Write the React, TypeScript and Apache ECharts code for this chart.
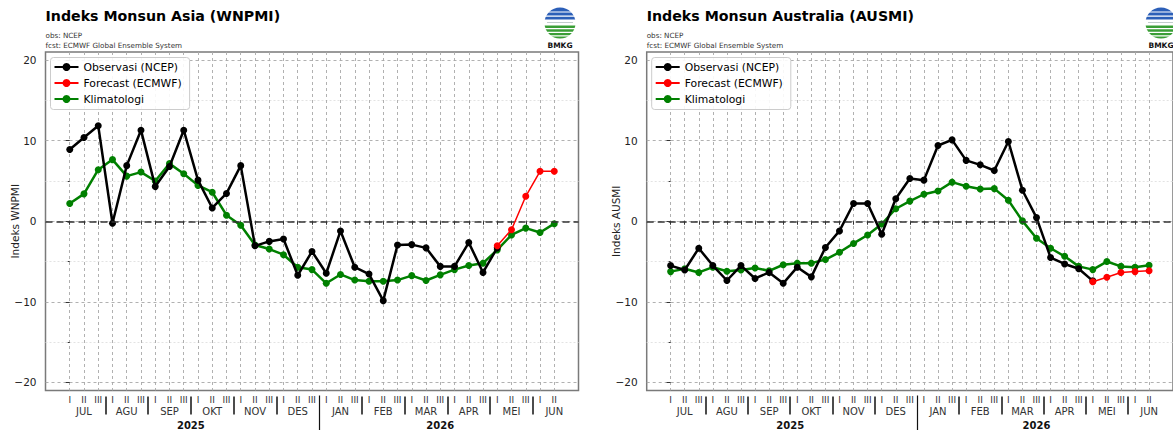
import React, { useEffect, useRef } from 'react';
import * as echarts from 'echarts';

// ---------- labels ----------
const dekadNames = ['I', 'II', 'III'];
const monthNames = ['JUL', 'AGU', 'SEP', 'OKT', 'NOV', 'DES', 'JAN', 'FEB', 'MAR', 'APR', 'MEI', 'JUN'];
const yearNames = ['2025', '2026'];
const yearCenters = [8.5, 26];
const yearBoundary = [17.5];
const legendNames = ['Observasi (NCEP)', 'Forecast (ECMWF)', 'Klimatologi'];
const yMajorTicks = [-20, -10, 0, 10, 20];
const yMinorTicks = [-15, -5, 5, 15];
const N_DEKAD = 35;
const FCST_START = 30;

// ---------- data (index = dekad from JUL I 2025) ----------
const wnpmiObs = [8.9, 10.4, 11.85, -0.25, 6.9, 11.3, 4.3, 6.8, 11.3, 5.1, 1.65, 3.45, 6.9, -3.05, -2.5, -2.2, -6.7, -3.75, -6.45, -1.2, -5.7, -6.55, -9.85, -2.95, -2.9, -3.3, -5.6, -5.6, -2.65, -6.35, -3.3];
const wnpmiFcst = [-3.05, -1.05, 3.1, 6.2, 6.2];
const wnpmiClim = [2.2, 3.4, 6.4, 7.65, 5.6, 6.1, 5.0, 7.15, 5.9, 4.45, 3.6, 0.75, -0.5, -2.95, -3.45, -4.15, -5.7, -6.0, -7.7, -6.6, -7.3, -7.45, -7.45, -7.3, -6.75, -7.35, -6.65, -6.0, -5.5, -5.2, -3.55, -1.7, -0.85, -1.4, -0.3];

const ausmiObs = [-5.5, -6.05, -3.35, -5.5, -7.35, -5.5, -7.1, -6.35, -7.7, -5.7, -6.9, -3.25, -1.2, 2.2, 2.2, -1.6, 2.8, 5.3, 5.1, 9.4, 10.1, 7.55, 7.0, 6.3, 9.9, 3.85, 0.45, -4.5, -5.3, -5.9, -7.4];
const ausmiFcst = [-7.5, -6.95, -6.35, -6.25, -6.15];
const ausmiClim = [-6.25, -5.9, -6.35, -5.7, -6.2, -6.05, -5.8, -6.15, -5.4, -5.2, -5.2, -4.75, -3.85, -2.75, -1.7, -0.35, 1.55, 2.5, 3.35, 3.75, 4.85, 4.35, 4.0, 4.05, 2.6, 0.05, -2.1, -3.35, -4.35, -5.6, -6.0, -5.0, -5.6, -5.7, -5.45];

const FONT = 'DejaVu Sans';
const X_MIN = -1.7;
const X_MAX = 35.7;
const Y_MIN = -21;
const Y_MAX = 21;

const dekadIdx = Array.from({ length: N_DEKAD }, (_, i) => i);
const monthCenters = monthNames.map((_, m) => m * 3 + 1);
const monthBoundaries = monthNames.slice(1).map((_, m) => m * 3 + 2.5).filter((v) => v !== yearBoundary[0]);

const pairs = (vals: number[], start = 0) => vals.map((v, i) => [start + i, v]);
const minus = (v: number) => (v < 0 ? '\u2212' + Math.abs(v) : String(v));

function logo(cx: number, cy: number) {
  const r = 15.5;
  const blue = '#2c5fb8';
  const green = '#3a9e36';
  return {
    type: 'group',
    children: [
      { type: 'sector', shape: { cx, cy, r, r0: 0, startAngle: Math.PI, endAngle: Math.PI * 2 }, style: { fill: blue } },
      { type: 'sector', shape: { cx, cy, r, r0: 0, startAngle: 0, endAngle: Math.PI }, style: { fill: green } },
      { type: 'rect', shape: { x: cx - 17, y: cy - 11.5, width: 34, height: 1.1 }, style: { fill: '#fff' } },
      { type: 'rect', shape: { x: cx - 17, y: cy - 7.5, width: 34, height: 1.2 }, style: { fill: '#fff' } },
      { type: 'rect', shape: { x: cx - 17, y: cy - 3.5, width: 34, height: 6 }, style: { fill: '#fff' } },
      { type: 'line', shape: { x1: cx - 13, y1: cy - 0.5, x2: cx + 13, y2: cy - 0.5 }, style: { stroke: '#9aa', lineWidth: 0.6 } },
      { type: 'rect', shape: { x: cx - 17, y: cy + 5, width: 34, height: 1.3 }, style: { fill: '#fff' } },
      { type: 'rect', shape: { x: cx - 17, y: cy + 8.8, width: 34, height: 1.3 }, style: { fill: '#fff' } },
      { type: 'rect', shape: { x: cx - 17, y: cy + 12.3, width: 34, height: 1.3 }, style: { fill: '#fff' } },
      {
        type: 'text',
        x: cx,
        y: cy + 22,
        style: { text: 'BMKG', fill: '#111', font: `bold 7.5px "${FONT}"`, textAlign: 'center', textVerticalAlign: 'middle' },
      },
    ],
  };
}

function buildPanel(gi: number, left: number, title: string, yName: string, obs: number[], fcst: number[], clim: number[]) {
  const top = 52;
  const width = 533;
  const height = 339.5;
  const xBase = gi * 5;
  const yBase = gi * 2;
  const axisCommon = { type: 'value', gridIndex: gi, min: X_MIN, max: X_MAX, position: 'bottom', axisLine: { show: false }, splitLine: { show: false } };
  const grid = { left, top, width, height, show: true, borderColor: '#7a7a7a', borderWidth: 1.5, backgroundColor: 'transparent' };
  const xAxes = [
    {
      ...axisCommon,
      axisTick: { show: true, customValues: dekadIdx, length: 3.5, lineStyle: { color: '#333', width: 1 } },
      axisLabel: { show: true, customValues: dekadIdx, formatter: (v: number) => dekadNames[Math.round(v) % 3], fontSize: 9, color: '#333', fontFamily: FONT, margin: 5 },
      splitLine: { show: true, lineStyle: { color: '#a8a8a8', type: [3, 3], width: 0.9 } },
    },
    {
      ...axisCommon,
      axisTick: { show: false },
      axisLabel: { show: true, customValues: monthCenters, formatter: (v: number) => monthNames[Math.round((v - 1) / 3)], fontSize: 10, color: '#333', fontFamily: FONT, margin: 16 },
    },
    {
      ...axisCommon,
      offset: 6,
      axisTick: { show: true, customValues: monthBoundaries, length: 18, lineStyle: { color: '#111', width: 1.5 } },
      axisLabel: { show: false },
    },
    {
      ...axisCommon,
      offset: 5,
      axisTick: { show: true, customValues: yearBoundary, length: 40, lineStyle: { color: '#111', width: 1.2 } },
      axisLabel: { show: false },
    },
    {
      ...axisCommon,
      axisTick: { show: false },
      axisLabel: { show: true, customValues: yearCenters, formatter: (v: number) => yearNames[v < yearBoundary[0] ? 0 : 1], fontSize: 10, fontWeight: 'bold', color: '#111', fontFamily: FONT, margin: 29.5 },
    },
  ];
  const yAxes = [
    {
      type: 'value', gridIndex: gi, min: Y_MIN, max: Y_MAX, position: 'left',
      axisLine: { show: false },
      axisTick: { show: true, customValues: yMajorTicks, length: 4, lineStyle: { color: '#333' } },
      axisLabel: { show: true, customValues: yMajorTicks, formatter: minus, fontSize: 10.5, color: '#222', fontFamily: FONT, margin: 9 },
      splitLine: { show: true, lineStyle: { color: '#a8a8a8', type: [3, 3], width: 0.9 } },
      name: yName, nameLocation: 'middle', nameGap: 25, nameMoveOverlap: false,
      nameTextStyle: { fontSize: 10.5, color: '#222', fontFamily: FONT },
    },
    {
      type: 'value', gridIndex: gi, min: Y_MIN, max: Y_MAX, position: 'left',
      axisLine: { show: false },
      axisTick: { show: true, customValues: yMinorTicks, length: 2, lineStyle: { color: '#333' } },
      axisLabel: { show: false },
      splitLine: { show: true, lineStyle: { color: '#e0e0e0', type: [2, 2], width: 0.9 } },
    },
  ];
  const common = { type: 'line', xAxisIndex: xBase, yAxisIndex: yBase, symbol: 'circle', symbolSize: 7, emphasis: { disabled: true }, animation: false };
  const series = [
    {
      ...common, name: legendNames[2], data: pairs(clim), z: 3,
      itemStyle: { color: '#008000' }, lineStyle: { color: '#008000', width: 2.5 },
    },
    {
      ...common, name: legendNames[0], data: pairs(obs), z: 4,
      itemStyle: { color: '#000' }, lineStyle: { color: '#000', width: 2.5 },
      markLine: {
        silent: true, symbol: ['none', 'none'], label: { show: false }, animation: false,
        lineStyle: { color: '#333', type: [7, 4], width: 1.6 },
        data: [{ yAxis: 0 }],
      },
    },
    {
      ...common, name: legendNames[1], data: pairs(fcst, FCST_START), z: 5,
      itemStyle: { color: '#ff0000' }, lineStyle: { color: '#ff0000', width: 1.5 },
    },
  ];
  const legend = {
    orient: 'vertical', left: left + 5, top: 57.5, data: legendNames,
    itemWidth: 24, itemHeight: 10, itemGap: 5, padding: [4, 8, 5, 3],
    backgroundColor: 'rgba(255,255,255,0.9)', borderColor: '#cccccc', borderWidth: 1, borderRadius: 3,
    textStyle: { fontSize: 10.8, color: '#000', fontFamily: FONT },
    selectedMode: false,
  };
  const titleObj = {
    text: title, left, top: 8, padding: 0, itemGap: 6,
    textStyle: { fontSize: 14.2, fontWeight: 'bold', color: '#000', fontFamily: FONT, lineHeight: 16 },
    subtext: 'obs: NCEP\nfcst: ECMWF Global Ensemble System',
    subtextStyle: { fontSize: 7.2, color: '#333', fontFamily: FONT, lineHeight: 10 },
  };
  return { grid, xAxes, yAxes, series, legend, titleObj };
}

export default function App() {
  const ref = useRef<HTMLDivElement>(null);
  useEffect(() => {
    if (!ref.current) return;
    const chart = echarts.init(ref.current, null, { renderer: 'svg' });
    const p1 = buildPanel(0, 45.5, 'Indeks Monsun Asia (WNPMI)', 'Indeks WNPMI', wnpmiObs, wnpmiFcst, wnpmiClim);
    const p2 = buildPanel(1, 646.7, 'Indeks Monsun Australia (AUSMI)', 'Indeks AUSMI', ausmiObs, ausmiFcst, ausmiClim);
    chart.setOption({
      animation: false,
      backgroundColor: '#fff',
      textStyle: { fontFamily: FONT },
      title: [p1.titleObj, p2.titleObj],
      legend: [p1.legend, p2.legend],
      grid: [p1.grid, p2.grid],
      xAxis: [...p1.xAxes, ...p2.xAxes],
      yAxis: [...p1.yAxes, ...p2.yAxes],
      series: [...p1.series, ...p2.series],
      graphic: [logo(560, 23), logo(1161, 23)],
    });
    return () => chart.dispose();
  }, []);
  return <div ref={ref} style={{ position: 'fixed', left: 0, top: 0, width: 1173, height: 430 }} />;
}
